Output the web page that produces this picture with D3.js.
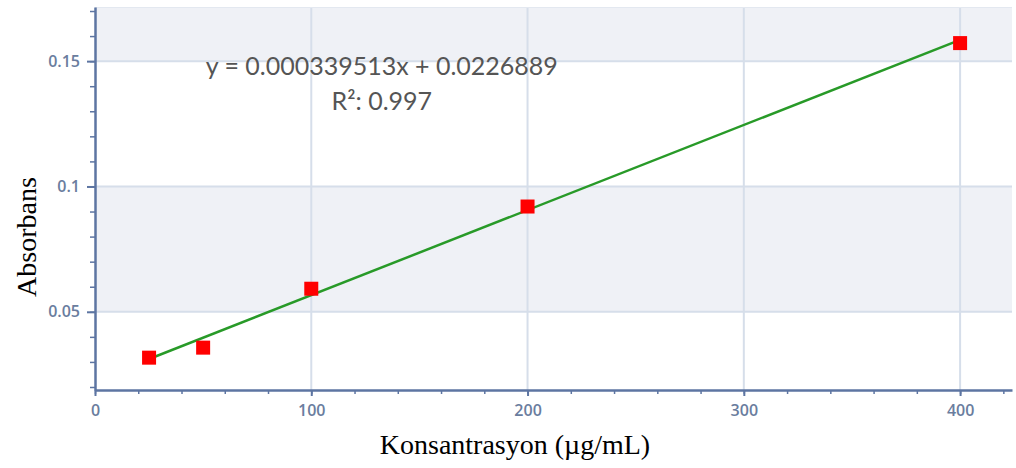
<!DOCTYPE html>
<html>
<head>
<meta charset="utf-8">
<script src="https://cdn.jsdelivr.net/npm/d3@7"></script>
<style>
  body { margin: 0; background: #fff; }
  svg { display: block; }
</style>
</head>
<body>
<div class="svg-div"></div>
<script>
// values
const concentrations = [25, 50, 100, 200, 400];
const absorbances = [0.0317, 0.0357, 0.0592, 0.0920, 0.1572];
const xTicks = [0, 100, 200, 300, 400];
const yTicks = [0.05, 0.1, 0.15];
const yTickLabels = ["0.05", "0.1", "0.15"];
// fit shown on the chart
const slope = 0.000339513;
const intercept = 0.0226889;
const fitText = ["y = 0.000339513x + 0.0226889", "R²: 0.997"];

const svgWidth = 1016, svgHeight = 468;
const margin = {top: 7, right: 4, bottom: 78, left: 95};
let width = svgWidth - margin.left - margin.right;
let height = svgHeight - margin.top - margin.bottom;

let svg = d3.select(".svg-div").append("svg")
  .attr("width", svgWidth)
  .attr("height", svgHeight);

let x = d3.scaleLinear().domain([0, 424]).range([0, width]);
let y = d3.scaleLinear().domain([0.0188, 0.1716]).range([height, 0]);

let g = svg.append("g")
  .attr("transform", "translate(" + margin.left + "," + margin.top + ")");

// alternating bands
const bands = [[0.05, 0.1], [0.15, y.domain()[1]]];
g.selectAll(".band")
  .data(bands)
  .enter().append("rect")
  .attr("x", 0)
  .attr("width", width)
  .attr("y", d => y(d[1]))
  .attr("height", d => y(d[0]) - y(d[1]))
  .style("fill", "#eff1f6");

// grid
g.selectAll(".hgrid")
  .data(yTicks)
  .enter().append("line")
  .attr("x1", 0).attr("x2", width)
  .attr("y1", d => y(d)).attr("y2", d => y(d))
  .style("stroke", "#d6deea").style("stroke-width", 2);
g.selectAll(".vgrid")
  .data(xTicks.slice(1))
  .enter().append("line")
  .attr("y1", 0).attr("y2", height)
  .attr("x1", d => x(d)).attr("x2", d => x(d))
  .style("stroke", "#d6deea").style("stroke-width", 2);
g.append("line")
  .attr("x1", 0).attr("x2", width).attr("y1", 0.5).attr("y2", 0.5)
  .style("stroke", "#e3e8f0");

const axisColor = "#5d75a2";
const labelColor = "#6a7d9e";

// minor ticks
g.append("g")
  .attr("transform", "translate(0," + height + ")")
  .call(d3.axisBottom(x).tickValues(d3.range(0, 421, 20)).tickSize(4).tickFormat(""))
  .call(a => a.select(".domain").remove())
  .selectAll("line").style("stroke", axisColor).style("stroke-width", 1.5);
g.append("g")
  .call(d3.axisLeft(y).tickValues(d3.range(0.02, 0.171, 0.01)).tickSize(5).tickFormat(""))
  .call(a => a.select(".domain").remove())
  .selectAll("line").style("stroke", axisColor).style("stroke-width", 1.5);

// main axes
let xAxis = g.append("g")
  .attr("class", "x axis")
  .attr("transform", "translate(0," + height + ")")
  .call(d3.axisBottom(x).tickValues(xTicks).tickSize(6).tickSizeOuter(0).tickPadding(9));
let yAxis = g.append("g")
  .attr("class", "y axis")
  .call(d3.axisLeft(y).tickValues(yTicks).tickSize(8).tickSizeOuter(0).tickPadding(7)
    .tickFormat((d, i) => yTickLabels[i]));

[xAxis, yAxis].forEach(a => {
  a.select(".domain").style("stroke", axisColor).style("stroke-width", 2.5);
  a.selectAll(".tick line").style("stroke", axisColor).style("stroke-width", 2);
  a.selectAll(".tick text")
    .style("fill", labelColor)
    .style("font-family", "'Open Sans', sans-serif")
    .style("font-weight", "600")
    .style("font-size", "16px");
});

// fit line
const x0 = d3.min(concentrations), x1 = d3.max(concentrations);
g.append("line")
  .attr("x1", x(x0)).attr("y1", y(slope * x0 + intercept))
  .attr("x2", x(x1)).attr("y2", y(slope * x1 + intercept))
  .style("stroke", "#289a28").style("stroke-width", 2.5);

// points
const data = concentrations.map((c, i) => ({c: c, a: absorbances[i]}));
const s = 14;
g.selectAll(".pt")
  .data(data)
  .enter().append("rect")
  .attr("x", d => x(d.c) - s / 2)
  .attr("y", d => y(d.a) - s / 2)
  .attr("width", s).attr("height", s)
  .style("fill", "#ff0000");

// equation
g.selectAll(".eq")
  .data(fitText)
  .enter().append("text")
  .attr("x", x(132.6))
  .attr("y", (d, i) => 68 + i * 35)
  .attr("text-anchor", "middle")
  .style("font-family", "Lato, sans-serif")
  .style("font-size", "25px")
  .style("fill", "#555")
  .text(d => d);

// axis titles
svg.append("text")
  .attr("x", 515)
  .attr("y", 454)
  .attr("text-anchor", "middle")
  .style("font-family", "'Liberation Serif', serif")
  .style("font-size", "28px")
  .text("Konsantrasyon (µg/mL)");
svg.append("text")
  .attr("transform", "translate(36,237) rotate(-90)")
  .attr("text-anchor", "middle")
  .style("font-family", "'Liberation Serif', serif")
  .style("font-size", "28px")
  .text("Absorbans");
</script>
</body>
</html>
